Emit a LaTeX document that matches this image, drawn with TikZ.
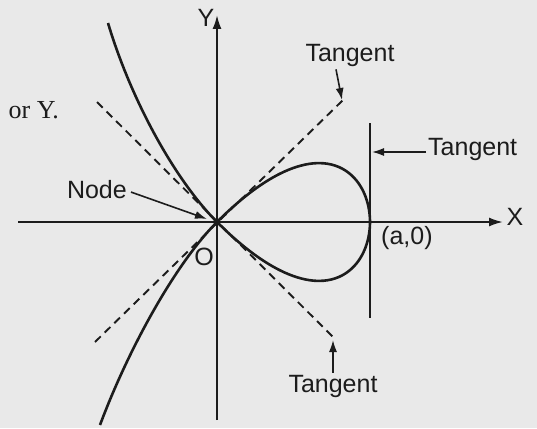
\documentclass[tikz,border=0pt]{standalone}
\usepackage{fontspec}
\setmainfont{Liberation Sans}
\newfontfamily\pagefont{Liberation Serif}
\usetikzlibrary{arrows.meta, calc, positioning}
\definecolor{scanpaper}{HTML}{E9E9E9}
\definecolor{scanink}{HTML}{1C1C1C}

\begin{document}
\begin{tikzpicture}[x=1pt, y=-1pt, every node/.style={font=\fontsize{25}{30}\selectfont, text=scanink, inner sep=2pt},
    axis/.style={scanink, line width=2pt, -{Latex[length=14pt, width=9pt]}},
    curve/.style={scanink, line width=2.6pt, line join=round},
    tangentbar/.style={scanink, line width=2pt},
    tangentline/.style={scanink, line width=1.9pt, dash pattern=on 8pt off 5.5pt},
    pointer/.style={scanink, line width=1.6pt, -{Latex[length=12pt, width=8pt]}}]
  \fill[scanpaper] (0,0) rectangle (537,428);
  \useasboundingbox (0,0) rectangle (537,428);
  \coordinate (O) at (217,222);
  \coordinate (xfrom) at (18,222);
  \coordinate (xtip) at (503,222);
  \coordinate (yfrom) at (217,420);
  \coordinate (ytip) at (217,15);
  \coordinate (apt) at (370,222);
  \coordinate (vtop) at (370,123);
  \coordinate (vbot) at (370,318);
  \coordinate (t1a) at (95,342);
  \coordinate (t1b) at (343,100);
  \coordinate (t2a) at (97,102);
  \coordinate (t2b) at (333,337);
  \coordinate (ulend) at (108,23);
  \coordinate (llend) at (100,425);

  \draw[axis] (xfrom) -- (xtip);
  \draw[axis] (yfrom) -- (ytip);
  \draw[tangentline] (t1a) -- (t1b);
  \draw[tangentline] (t2a) -- (t2b);
  \draw[curve] (ulend) .. controls (131,100) and (175,180) .. (O)
    -- plot[domain=-1:1, samples=81, smooth] ({217+153*(1-\x*\x)}, {222-153*\x*(1-\x*\x)})
    .. controls (175,264) and (128,350) .. (llend);
  \draw[tangentbar] (vtop) -- (vbot);

  \node[anchor=base] (ylbl) at (206,27) {Y};
  \node[anchor=base] (xlbl) at (515,225) {X};
  \node[below right=2pt and 9pt of apt] (alabel) {(a,0)};
  \node[anchor=base] (olbl) at (204,265) {O};
  \node[anchor=base east, font=\pagefont\fontsize{26}{30}\selectfont] (pagetext) at (61,118) {or Y.};

  \node[anchor=base east] (nodelbl) at (129,198) {Node};
  \coordinate (nodetip) at (207,219);
  \draw[pointer] ($(nodelbl.east)+(2,3)$) -- (nodetip);

  \node[anchor=base] (tantop) at (350,61) {Tangent};
  \coordinate (tttip) at (342,100);
  \draw[pointer] ($(tantop.south)+(-14,1)$) -- (tttip);

  \node[anchor=base west] (tanright) at (426,155) {Tangent};
  \coordinate (trtip) at (372,152);
  \draw[pointer] (tanright.west |- trtip) -- (trtip);

  \node[anchor=base] (tanbot) at (333,392) {Tangent};
  \coordinate (tbtip) at (333,340);
  \draw[pointer] (tanbot.north) -- (tbtip);
\end{tikzpicture}
\end{document}
